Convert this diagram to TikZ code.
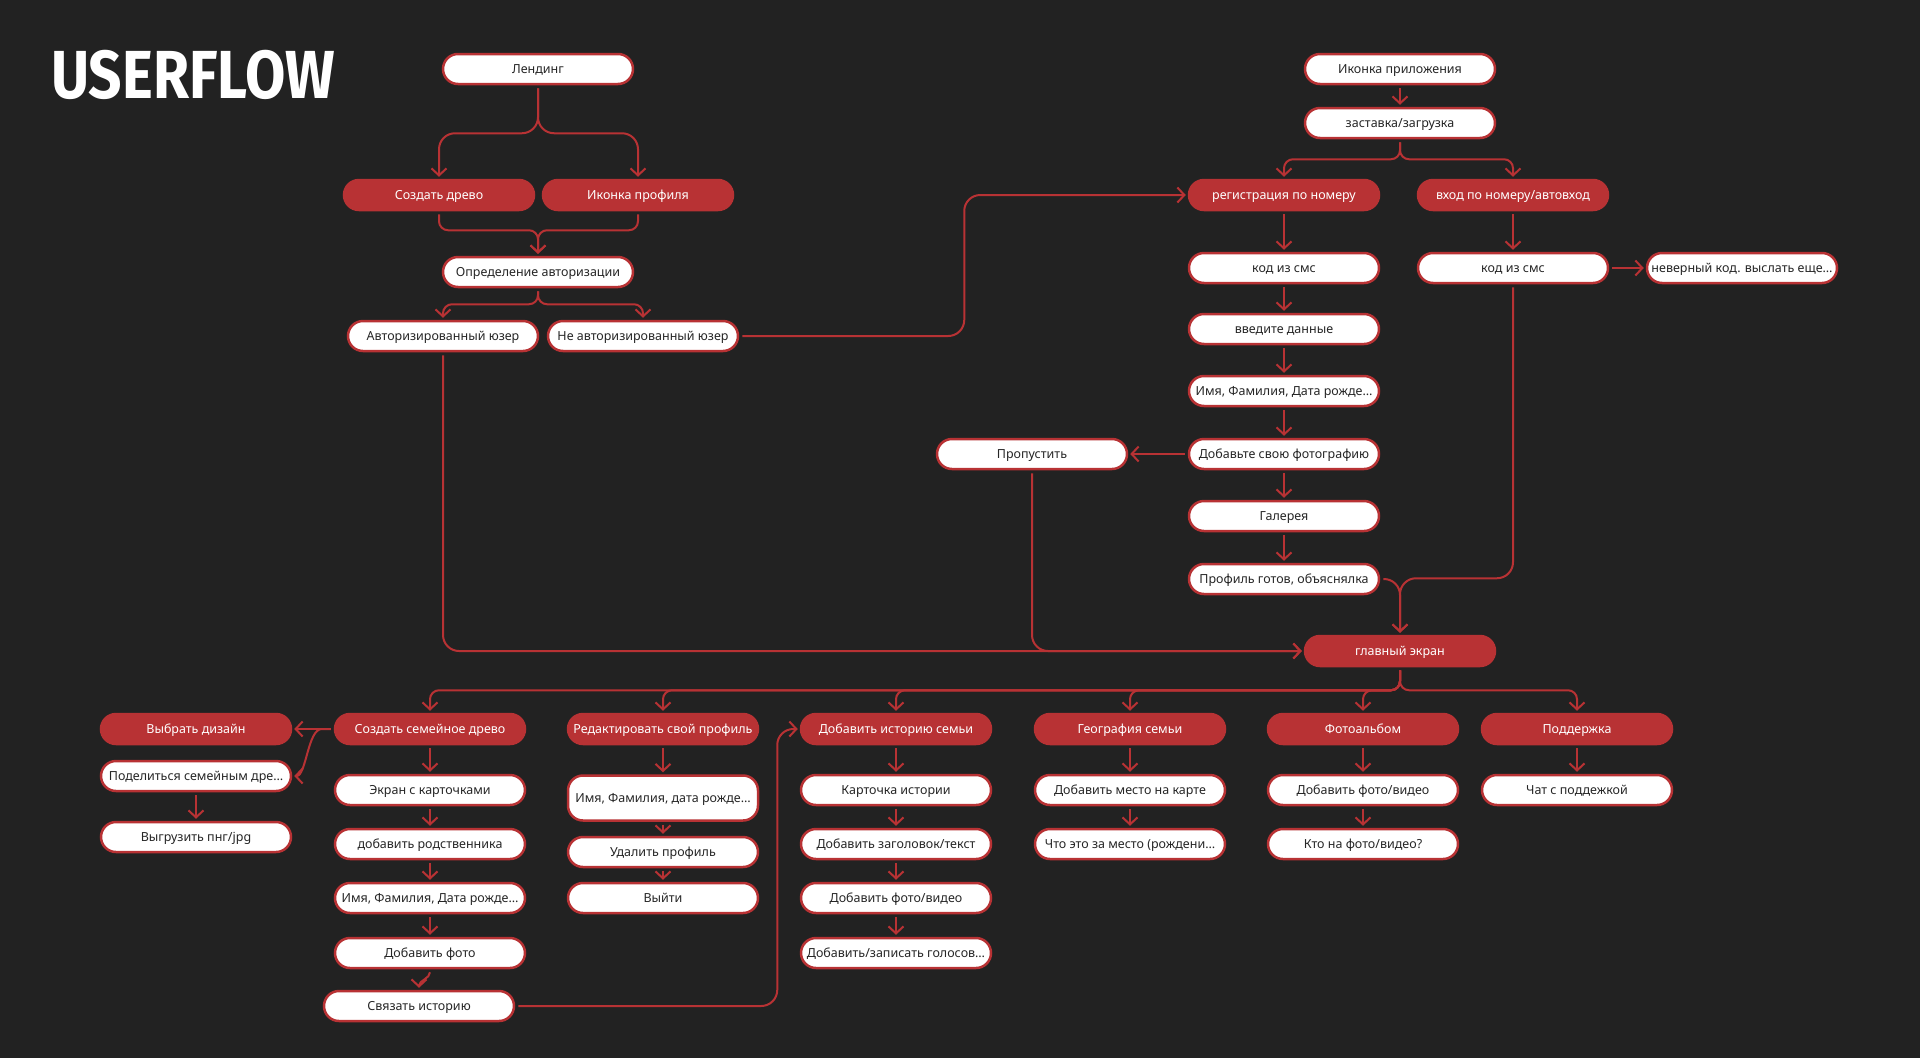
\documentclass[tikz,border=0pt]{standalone}
\usepackage{fontspec}
\setmainfont{Noto Sans}
\newfontfamily\titlefont[FakeStretch=0.86]{Fira Sans}
\usetikzlibrary{arrows.meta}

\definecolor{bg}{HTML}{222222}
\definecolor{flowred}{HTML}{B83234}
\definecolor{ink}{HTML}{262626}

\tikzset{
 pill/.style={rectangle,rounded corners=15pt,minimum width=190pt,minimum height=30pt,
   line width=2.5pt,draw=flowred,inner sep=2pt,text height=9pt,text depth=1pt,
   font=\fontsize{12.5}{14}\selectfont},
 pillw/.style={pill,fill=white,text=ink},
 pillr/.style={pill,fill=flowred,text=white},
 flow/.style={draw=flowred,line width=2pt,-{Straight Barb[length=7pt,width=15pt]},
   shorten <=3pt,shorten >=2pt},
}

\begin{document}
\begin{tikzpicture}[x=1pt,y=-1pt]
 \useasboundingbox (0,0) rectangle (1920,1058);
 \fill[bg] (0,0) rectangle (1920,1058);
 \node[anchor=base west,inner sep=0,text=white,
   font={\titlefont\bfseries\fontsize{68}{70}\selectfont}] (title) at (51,98) {USERFLOW};

 % web entry
 \node[pillw] (land) at (538,69) {Лендинг};
 \node[pillr] (tree) at (439,195) {Создать древо};
 \node[pillr] (iconp) at (638,195) {Иконка профиля};
 \node[pillw] (auth) at (538,272) {Определение авторизации};
 \node[pillw] (authed) at (443,336) {Авторизированный юзер};
 \node[pillw] (noauth) at (643,336) {Не авторизированный юзер};

 % app entry
 \node[pillw] (appicon) at (1400,69) {Иконка приложения};
 \node[pillw] (splash) at (1400,123) {заставка/загрузка};
 \node[pillr] (reg) at (1284,195) {регистрация по номеру};
 \node[pillr] (login) at (1513,195) {вход по номеру/автовход};
 \node[pillw] (sms1) at (1284,268) {код из смс};
 \node[pillw] (sms2) at (1513,268) {код из смс};
 \node[pillw] (wrong) at (1742,268) {неверный код. выслать еще…};
 \node[pillw] (data) at (1284,329) {введите данные};
 \node[pillw] (name1) at (1284,391) {Имя, Фамилия, Дата рожде…};
 \node[pillw] (photo) at (1284,454) {Добавьте свою фотографию};
 \node[pillw] (skip) at (1032,454) {Пропустить};
 \node[pillw] (gallery) at (1284,516) {Галерея};
 \node[pillw] (ready) at (1284,579) {Профиль готов, объяснялка};
 \node[pillr] (main) at (1400,651) {главный экран};

 % sections
 \node[pillr] (design) at (196,729) {Выбрать дизайн};
 \node[pillr] (ftree) at (430,729) {Создать семейное древо};
 \node[pillr] (edit) at (663,729) {Редактировать свой профиль};
 \node[pillr] (story) at (896,729) {Добавить историю семьи};
 \node[pillr] (geo) at (1130,729) {География семьи};
 \node[pillr] (album) at (1363,729) {Фотоальбом};
 \node[pillr] (support) at (1577,729) {Поддержка};

 \node[pillw] (share) at (196,776) {Поделиться семейным дре…};
 \node[pillw] (export) at (196,837) {Выгрузить пнг/jpg};
 \node[pillw] (screen) at (430,790) {Экран с карточками};
 \node[pillw] (relative) at (430,844) {добавить родственника};
 \node[pillw] (name2) at (430,898) {Имя, Фамилия, Дата рожде…};
 \node[pillw] (addphoto) at (430,953) {Добавить фото};
 \node[pillw] (link) at (419,1006) {Связать историю};
 \node[pillw,minimum height=45pt] (pname) at (663,798) {Имя, Фамилия, дата рожде…};
 \node[pillw] (del) at (663,852) {Удалить профиль};
 \node[pillw] (exit) at (663,898) {Выйти};
 \node[pillw] (card) at (896,790) {Карточка истории};
 \node[pillw] (head) at (896,844) {Добавить заголовок/текст};
 \node[pillw] (vphoto) at (896,898) {Добавить фото/видео};
 \node[pillw] (voice) at (896,953) {Добавить/записать голосов…};
 \node[pillw] (place) at (1130,790) {Добавить место на карте};
 \node[pillw] (what) at (1130,844) {Что это за место (рождени…};
 \node[pillw] (aphoto) at (1363,790) {Добавить фото/видео};
 \node[pillw] (who) at (1363,844) {Кто на фото/видео?};
 \node[pillw] (chat) at (1577,790) {Чат с поддежкой};

 % connectors
 \begin{scope}[rounded corners=16pt]
  \foreach \t in {tree,iconp}
   \draw[flow] (land.south) -- ++(0,48) -| (\t.north);
  \draw[flow] (noauth.east) -- ++(225,0) |- (reg.west);
  \draw[flow] (sms2.south) -- ++(0,294) -| (main.north);
  \draw[flow] (ready.east) -| (main.north);
  \draw[flow] (authed.south) |- (main.west);
  \draw[flow] (skip.south) |- (main.west);
  \draw[flow] (link.east) -- ++(262,0) |- (story.west);
 \end{scope}
 \begin{scope}[rounded corners=9pt]
  \foreach \t in {tree,iconp}
   \draw[flow] (\t.south) -- ++(0,19) -| (auth.north);
  \foreach \t in {authed,noauth}
   \draw[flow] (auth.south) -- ++(0,16) -| (\t.north);
  \foreach \t in {reg,login}
   \draw[flow] (splash.south) -- ++(0,20) -| (\t.north);
  \foreach \t in {ftree,edit,story,geo,album,support}
   \draw[flow] (main.south) -- ++(0,23) -| (\t.north);
 \end{scope}

 \draw[flow] (appicon) -- (splash);
 \foreach \a/\b in {reg/sms1,sms1/data,data/name1,name1/photo,photo/gallery,gallery/ready,
   login/sms2,share/export,ftree/screen,screen/relative,relative/name2,name2/addphoto,
   edit/pname,pname/del,del/exit,story/card,card/head,head/vphoto,vphoto/voice,
   geo/place,place/what,album/aphoto,aphoto/who,support/chat}
  \draw[flow] (\a) -- (\b);
 \draw[flow] (photo) -- (skip);
 \draw[flow] (sms2) -- (wrong);
 \draw[flow] (ftree.west) -- (design.east);
 \draw[flow] (ftree.west) -- ++(-12,0) .. controls +(-14,0) and +(14,0) .. (share.east);
 \draw[flow] (addphoto.south) to[out=-90,in=90] (link.north);
\end{tikzpicture}
\end{document}
